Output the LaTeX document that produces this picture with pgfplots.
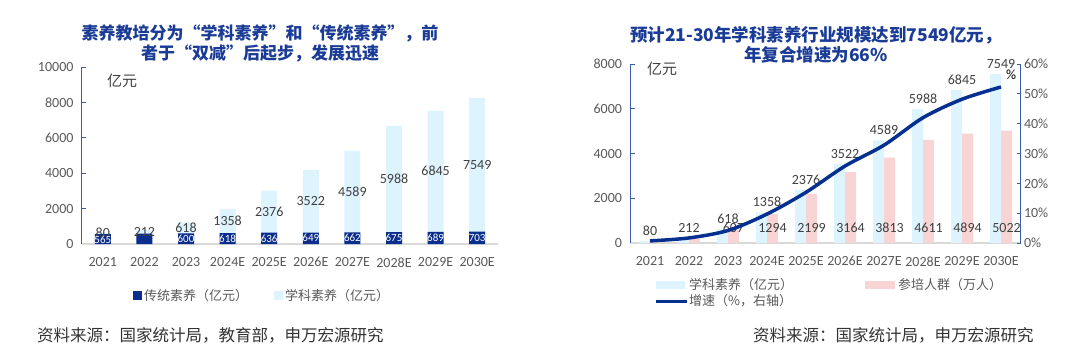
\documentclass[border=0pt]{standalone}
\usepackage{fontspec}
\setmainfont{Carlito}
\newfontfamily\cjk{Noto Sans CJK SC}
\usepackage{pgfplots}
\pgfplotsset{compat=1.18}
\definecolor{titleblue}{HTML}{1A3C96}
\definecolor{navy}{HTML}{0B2D8C}
\definecolor{lb}{HTML}{DDF3FD}
\definecolor{pk}{HTML}{F8D4D4}
\definecolor{lineblue}{HTML}{06308F}
\definecolor{axblue}{HTML}{3A5DAE}
\definecolor{axgrey}{HTML}{D9D9D9}
\definecolor{tickgrey}{HTML}{595959}
\definecolor{lblgrey}{HTML}{404040}
\definecolor{srcgrey}{HTML}{333333}
\newcommand\fs[1]{\fontsize{#1}{#1}\selectfont}
\pgfplotsset{
  common/.style={
    scale only axis, anchor=south west, clip=false,
    xmin=-0.5, xmax=9.5, ymin=0,
    xtick={0,...,9},
    xticklabels={2021,2022,2023,2024E,2025E,2026E,2027E,2028E,2029E,2030E},
    axis x line*=bottom, axis y line*=left,
    x axis line style={-, draw=axgrey, line width=1.5pt},
    y axis line style={-, draw=axblue, line width=1pt},
    xtick style={draw=none},
    ytick style={draw=axblue, line width=0.8pt},
    major tick length=4pt, tick align=inside,
    ticklabel style={font=\fs{14}, text=tickgrey},
    xticklabel style={anchor=north, yshift=-10pt},
    yticklabel style={xshift=-5pt},
    scaled y ticks=false,
    /pgf/number format/assume math mode=true,
    /pgf/number format/1000 sep={},
  },
  lbl/.style={draw=none, mark=none, nodes near coords, point meta=explicit symbolic,
    every node near coord/.append style={anchor=center, font=\fs{#1}}},
}
\begin{document}
\begin{tikzpicture}
\useasboundingbox (0pt,0pt) rectangle (1080pt,-349pt);
% ---------- Left chart ----------
\begin{axis}[common, at={(82pt,-244pt)}, width=416pt, height=177pt,
  ymax=10000, ytick={0,2000,...,10000}]
\addplot[ybar, bar width=16pt, bar shift=0pt, fill=lb, draw=none]
  coordinates {(0,645) (1,794) (2,1218) (3,1976) (4,3012) (5,4171) (6,5251) (7,6663) (8,7534) (9,8252)};
\addplot[ybar, bar width=16pt, bar shift=0pt, fill=navy, draw=none]
  coordinates {(0,565) (1,582) (2,600) (3,618) (4,636) (5,649) (6,662) (7,675) (8,689) (9,703)};
\addplot[lbl=14, every node near coord/.append style={text=lblgrey}]
  coordinates {(0,640)[80] (1,660)[212] (2,909)[618] (3,1297)[1358] (4,1824)[2376] (5,2410)[3522] (6,2957)[4589] (7,3669)[5988] (8,4112)[6845] (9,4478)[7549]};
\addplot[lbl=11, every node near coord/.append style={text=white}]
  coordinates {(0,250)[565] (2,300)[600] (3,309)[618] (4,318)[636] (5,324)[649] (6,331)[662] (7,337)[675] (8,344)[689] (9,351)[703]};
\end{axis}
% ---------- Right chart ----------
\begin{axis}[common, at={(630.5pt,-243pt)}, width=390pt, height=179pt,
  ymax=8000, ytick={0,2000,...,8000}]
\addplot[ybar, bar width=11pt, bar shift=-5.5pt, fill=lb, draw=none,
  nodes near coords, point meta=explicit symbolic,
  every node near coord/.append style={font=\fs{14}, text=lblgrey, yshift=2pt}]
  coordinates {(0,80)[80] (1,212)[212] (2,618)[618] (3,1358)[1358] (4,2376)[2376] (5,3522)[3522] (6,4589)[4589] (7,5988)[5988] (8,6845)[6845] (9,7549)[7549]};
\addplot[ybar, bar width=11pt, bar shift=5.5pt, fill=pk, draw=none]
  coordinates {(0,40) (1,200) (2,607) (3,1294) (4,2199) (5,3164) (6,3813) (7,4611) (8,4894) (9,5022)};
\addplot[lbl=14, every node near coord/.append style={text=lblgrey}]
  coordinates {(2.141,670)[607] (3.141,670)[1294] (4.141,670)[2199] (5.141,670)[3164] (6.141,670)[3813] (7.141,670)[4611] (8.141,670)[4894] (9.141,670)[5022]};
\end{axis}
\begin{axis}[common, at={(630.5pt,-243pt)}, width=390pt, height=179pt,
  axis x line=none, axis y line*=right,
  ymax=60, ytick={0,10,...,60},
  yticklabel={\pgfmathprintnumber{\tick}\%},
  yticklabel style={xshift=5pt}]
\addplot[smooth, line width=3.5pt, color=lineblue, mark=none]
  coordinates {(0,0.7) (1,1.7) (2,4.2) (3,9.7) (4,17.0) (5,25.8) (6,32.8) (7,42.0) (8,48.2) (9,52.3)};
\end{axis}
\begin{scope}[x=1pt,y=1pt]
\node[align=center, font=\cjk\bfseries\fontsize{17}{20}\selectfont, text=titleblue] at (260,-43)
  {素养教培分为“学科素养”和“传统素养”，前\\者于“双减”后起步，发展迅速};
\node[font=\cjk\fs{15}, text=lblgrey] at (122,-81) {亿元};
\fill[navy] (133,-291) rectangle (142,-300);
\node[anchor=west, font=\cjk\fs{13}, text=tickgrey, inner sep=0pt] at (144,-295.5) {传统素养（亿元）};
\fill[lb] (274,-291) rectangle (283,-300);
\node[anchor=west, font=\cjk\fs{13}, text=tickgrey, inner sep=0pt] at (285,-295.5) {学科素养（亿元）};
\node[anchor=west, font=\cjk\fs{16.5}, text=srcgrey, inner sep=0pt] at (37,-335) {资料来源：国家统计局，教育部，申万宏源研究};
\node[align=center, font=\cjk\bfseries\fontsize{17.5}{20}\selectfont, text=titleblue] at (816,-45)
  {预计21-30年学科素养行业规模达到7549亿元，\\年复合增速为66\%};
\node[font=\cjk\fs{15}, text=lblgrey] at (662,-69) {亿元};
\node[font=\fs{14}, text=black] at (1011,-75) {\%};
\fill[lb] (656,-281) rectangle (685,-289);
\node[anchor=west, font=\cjk\fs{13}, text=tickgrey, inner sep=0pt] at (689,-285) {学科素养（亿元）};
\fill[pk] (865,-281) rectangle (895,-289);
\node[anchor=west, font=\cjk\fs{13}, text=tickgrey, inner sep=0pt] at (898,-285) {参培人群（万人）};
\draw[lineblue, line width=3pt] (656,-301) -- (687,-301);
\node[anchor=west, font=\cjk\fs{13}, text=tickgrey, inner sep=0pt] at (689,-301) {增速（\%，右轴）};
\node[anchor=west, font=\cjk\fs{16.5}, text=srcgrey, inner sep=0pt] at (753,-335) {资料来源：国家统计局，申万宏源研究};
\end{scope}
\end{tikzpicture}
\end{document}
